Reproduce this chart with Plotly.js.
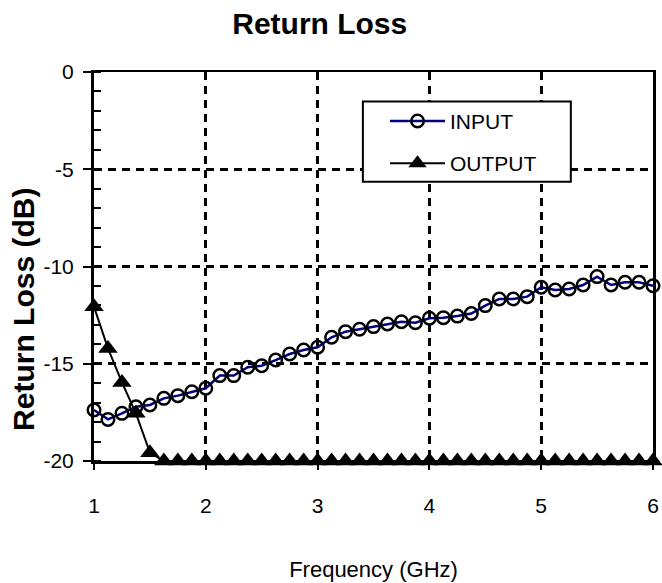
<!DOCTYPE html>
<html>
<head>
<meta charset="utf-8">
<script src="https://cdn.plot.ly/plotly-3.0.1.min.js"></script>
<style>
html,body{margin:0;padding:0;background:#fff;}
#chart{width:662px;height:583px;}
</style>
</head>
<body>
<div id="chart"></div>
<script>
// Frequency points (GHz)
const freq = [1.0,1.125,1.25,1.375,1.5,1.625,1.75,1.875,2.0,2.125,2.25,2.375,2.5,2.625,2.75,2.875,3.0,3.125,3.25,3.375,3.5,3.625,3.75,3.875,4.0,4.125,4.25,4.375,4.5,4.625,4.75,4.875,5.0,5.125,5.25,5.375,5.5,5.625,5.75,5.875,6.0];
// INPUT return loss (dB)
const inputRL = [-17.38,-17.86,-17.55,-17.21,-17.12,-16.78,-16.64,-16.44,-16.26,-15.61,-15.61,-15.18,-15.10,-14.81,-14.50,-14.29,-14.15,-13.64,-13.35,-13.23,-13.09,-12.96,-12.84,-12.89,-12.66,-12.63,-12.55,-12.42,-12.01,-11.67,-11.67,-11.55,-11.07,-11.21,-11.16,-10.95,-10.52,-10.95,-10.81,-10.81,-10.99];
// OUTPUT return loss (dB)
const outputRL = [-12.07,-14.21,-15.96,-17.55,-19.57,-20,-20,-20,-20,-20,-20,-20,-20,-20,-20,-20,-20,-20,-20,-20,-20,-20,-20,-20,-20,-20,-20,-20,-20,-20,-20,-20,-20,-20,-20,-20,-20,-20,-20,-20,-20];
const seriesNames = ["INPUT","OUTPUT"];
const xTickVals = [1,2,3,4,5,6];
const yTickVals = [0,-5,-10,-15,-20];
const chartTitle = "Return Loss";
const xTitle = "Frequency (GHz)";
const yTitle = "Return Loss (dB)";

const FONT = "Liberation Sans, Arial, Helvetica, sans-serif";

const traces = [
  {
    x: freq, y: inputRL, name: seriesNames[0], type: "scatter", mode: "lines+markers",
    legendgroup: "a", cliponaxis: false,
    line: {color: "#000080", width: 2.5},
    marker: {symbol: "circle", size: 12.5, color: "rgba(0,0,0,0)", line: {color: "#000000", width: 2.5}}
  },
  {
    x: freq, y: outputRL, name: seriesNames[1], type: "scatter", mode: "lines+markers",
    legendgroup: "b", cliponaxis: false,
    line: {color: "#000000", width: 2},
    marker: {symbol: "triangle-up", size: 17, color: "#000000", line: {width: 0}}
  }
];

const layout = {
  width: 662, height: 583,
  paper_bgcolor: "#ffffff", plot_bgcolor: "#ffffff",
  margin: {l: 94, r: 9, t: 72, b: 122, pad: 0},
  font: {family: FONT, color: "#000000"},
  title: {
    text: "<b>" + chartTitle + "</b>", font: {size: 30, family: FONT, color: "#000"},
    xref: "container", x: 0.483, xanchor: "center",
    yref: "container", y: 0.96, yanchor: "middle"
  },
  xaxis: {
    range: [1, 6], tickvals: xTickVals, ticktext: xTickVals.map(String),
    showgrid: true, gridcolor: "#000000", gridwidth: 3, griddash: "8px,6px",
    showline: true, linecolor: "#000000", linewidth: 2.5, mirror: true,
    ticks: "outside", ticklen: 6, tickwidth: 2, tickcolor: "#000000",
    ticklabelstandoff: 18,
    tickfont: {size: 21, family: FONT, color: "#000"},
    zeroline: false,
    title: {text: xTitle, font: {size: 22, family: FONT, color: "#000"}, standoff: 46}
  },
  yaxis: {
    range: [-20, 0], tickvals: yTickVals, ticktext: yTickVals.map(String),
    showgrid: true, gridcolor: "#000000", gridwidth: 3, griddash: "8px,6px",
    showline: true, linecolor: "#000000", linewidth: 3, mirror: true,
    ticks: "outside", ticklen: 8, tickwidth: 2, tickcolor: "#000000",
    ticklabelstandoff: 5,
    minor: {dtick: 1, ticks: "inside", ticklen: 7, tickwidth: 2, tickcolor: "#000000", showgrid: false},
    tickfont: {size: 21, family: FONT, color: "#000"},
    zeroline: false
  },
  annotations: [
    {text: "<b>" + yTitle + "</b>", textangle: -90, xref: "paper", yref: "paper",
     x: -0.1252, y: 0.3885, xanchor: "center", yanchor: "middle", showarrow: false,
     font: {size: 30, family: FONT, color: "#000"}}
  ],
  showlegend: true,
  legend: {
    x: 0.5206, y: 0.926, xanchor: "left", yanchor: "top",
    bgcolor: "rgba(0,0,0,0)", borderwidth: 0,
    itemwidth: 55,
    font: {size: 21, family: FONT, color: "#000"},
    tracegroupgap: 12
  },
  shapes: [
    {type: "rect", xref: "paper", yref: "paper", x0: 0.481, x1: 0.853, y0: 0.718, y1: 0.924,
     fillcolor: "#ffffff", line: {color: "#000000", width: 2}, layer: "above"}
  ]
};

Plotly.newPlot("chart", traces, layout, {displayModeBar: false, staticPlot: true});
</script>
</body>
</html>
